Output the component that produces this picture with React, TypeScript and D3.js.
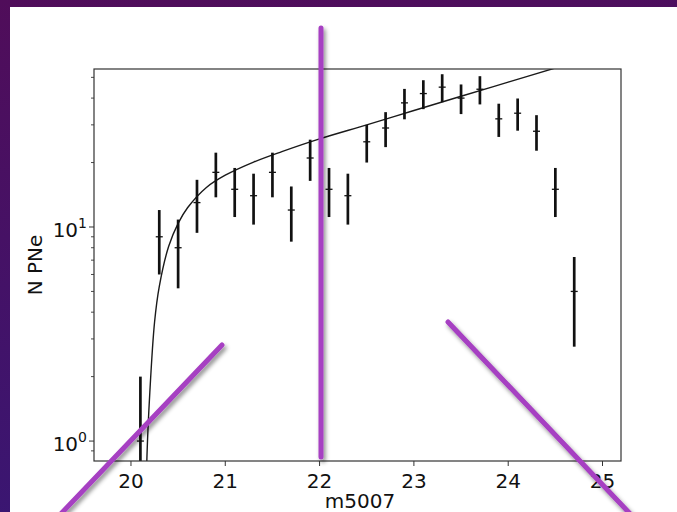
import React from "react";
import * as d3 from "d3";

// Binned PN counts per m5007 magnitude bin, with Poisson errors
const magnitudes = [20.1, 20.3, 20.5, 20.7, 20.9, 21.1, 21.3, 21.5, 21.7, 21.9, 22.1, 22.3, 22.5, 22.7, 22.9, 23.1, 23.3, 23.5, 23.7, 23.9, 24.1, 24.3, 24.5, 24.7];
const counts = [1, 9, 8, 13, 18, 15, 14, 18, 12, 21, 15, 14, 25, 29, 38, 42, 45, 40, 44, 32, 34, 28, 15, 5];
const countErrors = [1, 3, 2.83, 3.61, 4.24, 3.87, 3.74, 4.24, 3.46, 4.58, 3.87, 3.74, 5, 5.39, 6.16, 6.48, 6.71, 6.32, 6.63, 5.66, 5.83, 5.29, 3.87, 2.24];

// Fitted luminosity-function curve
const fitMags = [20.165, 20.17, 20.2, 20.25, 20.3, 20.4, 20.5, 20.6, 20.8, 21.0, 21.3, 21.6, 22.0, 22.5, 23.0, 23.5, 24.0, 24.5];
const fitCounts = [0.65, 0.86, 1.69, 3.59, 5.27, 8.13, 10.4, 12.3, 15.3, 17.45, 20.1, 22.5, 25.8, 30.0, 35.0, 40.8, 47.5, 55.3];

const xTicks = [20, 21, 22, 23, 24, 25];
const yMajorTicks = [1, 10];
const yMinorTicks = [0.9, 2, 3, 4, 5, 6, 7, 8, 9, 20, 30, 40, 50];

const W = 677;
const H = 512;
const plot = { left: 94, right: 621, top: 69, bottom: 461 };
const font = "'DejaVu Sans', sans-serif";
const accent = "#a63fc2";

export default function App() {
  const x = d3.scaleLinear().domain([19.608, 25.196]).range([plot.left, plot.right]);
  const y = d3.scaleLog().domain([0.807, 54.7]).range([plot.bottom, plot.top]);

  const fitLine = d3
    .line<number>()
    .x((_, i) => x(fitMags[i]))
    .y((d) => y(d))
    .curve(d3.curveCatmullRom.alpha(0.5))(fitCounts) as string;

  return (
    <svg
      width={W}
      height={H}
      viewBox={`0 0 ${W} ${H}`}
      style={{ position: "absolute", left: 0, top: 0, display: "block" }}
    >
      <defs>
        <linearGradient id="bg" x1="0" y1="0" x2="0.15" y2="1">
          <stop offset="0" stopColor="#500d5a" />
          <stop offset="1" stopColor="#3a1672" />
        </linearGradient>
        <clipPath id="plotClip">
          <rect x={plot.left} y={plot.top} width={plot.right - plot.left} height={plot.bottom - plot.top} />
        </clipPath>
        <filter id="shadow" x="-20%" y="-20%" width="140%" height="140%">
          <feDropShadow dx="2" dy="3" stdDeviation="2" floodColor="#000" floodOpacity="0.45" />
        </filter>
      </defs>

      <rect x={0} y={0} width={W} height={H} fill="url(#bg)" />
      <rect x={10} y={7} width={W - 10} height={H - 7} fill="#ffffff" />

      {/* fit curve */}
      <g clipPath="url(#plotClip)">
        <path d={fitLine} fill="none" stroke="#1a1a1a" strokeWidth={1.4} />
      </g>

      {/* error bars */}
      <g clipPath="url(#plotClip)">
        {magnitudes.map((m, i) => {
          const lo = Math.max(counts[i] - countErrors[i], 0.5);
          const hi = counts[i] + countErrors[i];
          const cx = x(m);
          const cy = y(counts[i]);
          return (
            <g key={m}>
              <line x1={cx} x2={cx} y1={y(lo)} y2={y(hi)} stroke="#111" strokeWidth={2.7} />
              <line x1={cx - 3.5} x2={cx + 3.5} y1={cy} y2={cy} stroke="#111" strokeWidth={1.3} />
            </g>
          );
        })}
      </g>

      {/* axes frame */}
      <rect
        x={plot.left}
        y={plot.top}
        width={plot.right - plot.left}
        height={plot.bottom - plot.top}
        fill="none"
        stroke="#333"
        strokeWidth={1.2}
      />

      {/* x ticks */}
      {xTicks.map((t) => (
        <g key={t}>
          <line x1={x(t)} x2={x(t)} y1={plot.bottom} y2={plot.bottom + 5} stroke="#333" strokeWidth={1} />
          <text x={x(t)} y={plot.bottom + 27} textAnchor="middle" fontFamily={font} fontSize={20} fill="#111">
            {t}
          </text>
        </g>
      ))}

      {/* y ticks */}
      {yMinorTicks.map((t) => (
        <line key={t} x1={plot.left - 3} x2={plot.left} y1={y(t)} y2={y(t)} stroke="#333" strokeWidth={0.9} />
      ))}
      {yMajorTicks.map((t) => (
        <g key={t}>
          <line x1={plot.left - 5} x2={plot.left} y1={y(t)} y2={y(t)} stroke="#333" strokeWidth={1} />
          <text x={plot.left - 7} y={y(t) + 10} textAnchor="end" fontFamily={font} fontSize={20} fill="#111">
            10
            <tspan fontSize={14} dy={-9}>
              {Math.round(Math.log10(t))}
            </tspan>
          </text>
        </g>
      ))}

      {/* axis labels */}
      <text x={360} y={508} textAnchor="middle" fontFamily={font} fontSize={20} fill="#111">
        m5007
      </text>
      <text
        transform={`translate(42, ${(plot.top + plot.bottom) / 2}) rotate(-90)`}
        textAnchor="middle"
        fontFamily={font}
        fontSize={20}
        fill="#111"
      >
        N PNe
      </text>

      {/* highlight strokes */}
      <g filter="url(#shadow)" stroke={accent} strokeWidth={5} strokeLinecap="round">
        <line x1={321} y1={28} x2={321} y2={457} />
        <line x1={222} y1={345} x2={55} y2={520} />
        <line x1={448} y1={322} x2={636} y2={520} />
      </g>
    </svg>
  );
}
